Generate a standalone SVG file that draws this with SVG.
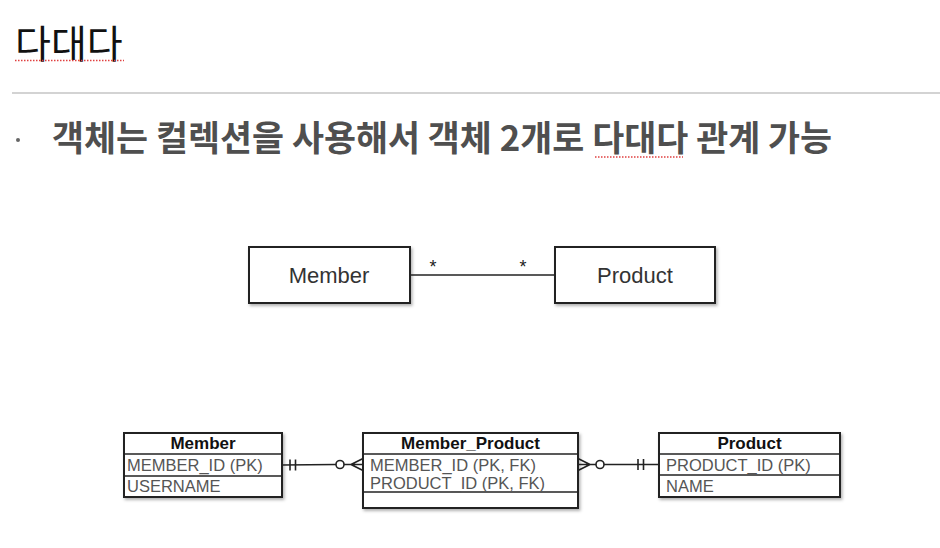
<svg xmlns="http://www.w3.org/2000/svg" width="940" height="548" viewBox="0 0 940 548">
<defs>
<style>
.kr{font-family:"Noto Sans CJK KR","Noto Sans",sans-serif}
.lat{font-family:"Liberation Sans",Arial,sans-serif}
.box{fill:#fff;stroke:#222;stroke-width:2}
.sep{stroke:#222;stroke-width:1.5}
.row{font-size:16.5px;fill:#555}
.hdr{font-size:17px;font-weight:bold;fill:#111;text-anchor:middle}
.uml{font-size:22px;fill:#333;text-anchor:middle}
.ln{stroke:#222;stroke-width:1.6;fill:none}
.spell{stroke:#e04040;stroke-width:1.5;stroke-dasharray:1.5 1.5}
</style>
<filter id="sh" x="-10%" y="-10%" width="130%" height="140%">
<feDropShadow dx="1.5" dy="2" stdDeviation="1.5" flood-color="#000" flood-opacity="0.3"/>
</filter>
</defs>
<rect width="940" height="548" fill="#fff"/>
<g id="title">
<text class="kr" x="15" y="58" font-size="39" fill="#111">다대다</text>
<line class="spell" x1="15" y1="60.5" x2="124" y2="60.5"/>
<line x1="12" y1="93" x2="940" y2="93" stroke="#d3d3d3" stroke-width="2"/>
</g>
<g id="bullet">
<circle cx="18" cy="140" r="2" fill="#666"/>
<text class="kr" x="52" y="151" font-size="34.8" font-weight="bold" fill="#4f4f4f">객체는 컬렉션을 사용해서 객체 2개로 다대다 관계 가능</text>
<line class="spell" x1="595" y1="157" x2="683" y2="157"/>
</g>
<g id="uml-member">
<rect class="box" x="249" y="247" width="161" height="56" filter="url(#sh)"/>
<text class="lat uml" x="329" y="283">Member</text>
</g>
<g id="uml-product">
<rect class="box" x="555" y="247" width="160" height="56" filter="url(#sh)"/>
<text class="lat uml" x="635" y="283">Product</text>
</g>
<g id="erd-member">
<rect class="box" x="124" y="433" width="158" height="64" filter="url(#sh)"/>
<line class="sep" x1="124" y1="454" x2="282" y2="454"/>
<line class="sep" x1="124" y1="476" x2="282" y2="476"/>
<text class="lat hdr" x="203" y="449">Member</text>
<text class="lat row" x="127" y="470.5" font-size="17">MEMBER_ID (PK)</text>
<text class="lat row" x="127" y="492" font-size="17">USERNAME</text>
</g>
<g id="erd-member-product">
<rect class="box" x="363" y="433" width="215" height="75" filter="url(#sh)"/>
<line class="sep" x1="363" y1="454" x2="578" y2="454"/>
<line class="sep" x1="363" y1="492" x2="578" y2="492"/>
<text class="lat hdr" x="470.5" y="449">Member_Product</text>
<text class="lat row" x="370" y="470.5">MEMBER_ID (PK, FK)</text>
<text class="lat row" x="370" y="489">PRODUCT_ID (PK, FK)</text>
</g>
<g id="erd-product">
<rect class="box" x="659" y="433" width="181" height="64" filter="url(#sh)"/>
<line class="sep" x1="659" y1="454" x2="840" y2="454"/>
<line class="sep" x1="659" y1="475" x2="840" y2="475"/>
<text class="lat hdr" x="749.5" y="449">Product</text>
<text class="lat row" x="666" y="470.5">PRODUCT_ID (PK)</text>
<text class="lat row" x="666" y="492">NAME</text>
</g>
<g id="connectors">
<line class="ln" x1="410" y1="275" x2="555" y2="275"/>
<text class="lat" x="433" y="273" font-size="18" text-anchor="middle" fill="#222">*</text>
<text class="lat" x="523" y="273" font-size="18" text-anchor="middle" fill="#222">*</text>
<line class="ln" x1="282" y1="465" x2="336" y2="464.5"/>
<line class="ln" x1="290" y1="459.5" x2="290" y2="470.5"/>
<line class="ln" x1="295.5" y1="459.5" x2="295.5" y2="470.5"/>
<circle class="ln" cx="340" cy="464.5" r="4" fill="#fff"/>
<path class="ln" d="M344 464.5 H363 M351 464.5 L363 458.5 M351 464.5 L363 470.5"/>
<path class="ln" d="M578 464.5 H596 M578 458.5 L590 464.5 M578 470.5 L590 464.5"/>
<circle class="ln" cx="600" cy="464.5" r="4" fill="#fff"/>
<line class="ln" x1="604" y1="464.5" x2="659" y2="464.5"/>
<line class="ln" x1="638" y1="459" x2="638" y2="470"/>
<line class="ln" x1="643.5" y1="459" x2="643.5" y2="470"/>
</g>
</svg>
